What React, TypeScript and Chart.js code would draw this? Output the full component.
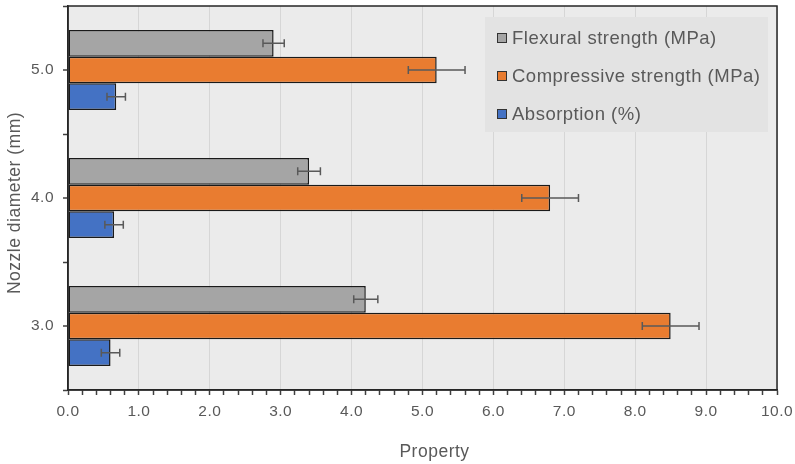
import React, { useEffect, useRef } from "react";
import { Chart, registerables } from "chart.js";

Chart.register(...registerables);

const categories = ["5.0", "4.0", "3.0"];
const seriesNames = ["Flexural strength (MPa)", "Compressive strength (MPa)", "Absorption (%)"];
const flexural = [2.9, 3.4, 4.2];
const flexuralErr = [0.15, 0.16, 0.17];
const compressive = [5.2, 6.8, 8.5];
const compressiveErr = [0.4, 0.4, 0.4];
const absorption = [0.68, 0.65, 0.6];
const absorptionErr = [0.13, 0.13, 0.13];
const xTitle = "Property";
const yTitle = "Nozzle diameter (mm)";

const FONT = "'Liberation Sans', Arial, sans-serif";
const TEXT = "#595959";

const errors = [flexuralErr, compressiveErr, absorptionErr];

const decorPlugin = {
  id: "decor",
  beforeDraw(chart: any) {
    const { ctx, chartArea: a } = chart;
    (ctx as any).letterSpacing = "0.5px";
    ctx.save();
    ctx.fillStyle = "#ebebeb";
    ctx.fillRect(a.left, a.top, a.right - a.left, a.bottom - a.top);
    ctx.restore();
  },
  afterDatasetsDraw(chart: any) {
    const { ctx, chartArea: a } = chart;
    const xs = chart.scales.x;
    const ys = chart.scales.y;
    // error bars
    ctx.save();
    ctx.strokeStyle = "#595959";
    ctx.lineWidth = 1.5;
    chart.data.datasets.forEach((ds: any, i: number) => {
      const meta = chart.getDatasetMeta(i);
      meta.data.forEach((el: any, j: number) => {
        const v = ds.data[j];
        const e = errors[i][j];
        const x1 = xs.getPixelForValue(v - e);
        const x2 = xs.getPixelForValue(v + e);
        const y = el.y;
        ctx.beginPath();
        ctx.moveTo(x1, y);
        ctx.lineTo(x2, y);
        ctx.moveTo(x1, y - 4);
        ctx.lineTo(x1, y + 4);
        ctx.moveTo(x2, y - 4);
        ctx.lineTo(x2, y + 4);
        ctx.stroke();
      });
    });
    ctx.restore();

    // y tick marks at labels
    ctx.save();
    ctx.strokeStyle = "#404040";
    ctx.lineWidth = 1.5;
    categories.forEach((_, j) => {
      const y = ys.getPixelForValue(j);
      ctx.beginPath();
      ctx.moveTo(a.left - 5, y);
      ctx.lineTo(a.left, y);
      ctx.stroke();
    });
    ctx.restore();

    // legend
    const lw = 283;
    const lh = 115;
    const lx = a.right - 9 - lw;
    const ly = a.top + 11;
    ctx.save();
    ctx.fillStyle = "#e3e3e3";
    ctx.fillRect(lx, ly, lw, lh);
    ctx.font = `18.5px ${FONT}`;
    ctx.textBaseline = "middle";
    ctx.textAlign = "left";
    chart.data.datasets.forEach((ds: any, i: number) => {
      const cy = ly + 21 + i * 38;
      ctx.fillStyle = ds.backgroundColor;
      ctx.fillRect(lx + 12, cy - 5, 10, 10);
      ctx.strokeStyle = "#333333";
      ctx.lineWidth = 1;
      ctx.strokeRect(lx + 12.5, cy - 4.5, 9, 9);
      ctx.fillStyle = TEXT;
      ctx.fillText(ds.label, lx + 27, cy + 1);
    });
    ctx.restore();

    // plot border
    ctx.save();
    ctx.strokeStyle = "#262626";
    ctx.lineWidth = 1.5;
    ctx.strokeRect(a.left, a.top, a.right - a.left, a.bottom - a.top);
    ctx.restore();

    // axis titles
    ctx.save();
    ctx.fillStyle = TEXT;
    ctx.font = `17.5px ${FONT}`;
    ctx.textAlign = "center";
    ctx.textBaseline = "middle";
    ctx.fillText(xTitle, (a.left + a.right) / 2 + 12, 452);
    ctx.translate(15, (a.top + a.bottom) / 2 + 5);
    ctx.rotate(-Math.PI / 2);
    ctx.fillText(yTitle, 0, 0);
    ctx.restore();
  },
};

export default function App() {
  const ref = useRef<HTMLCanvasElement | null>(null);
  useEffect(() => {
    document.body.style.margin = "0";
    if (!ref.current) return;
    const isInt = (v: number) => Math.abs(v - Math.round(v)) < 1e-6;
    const chart = new Chart(ref.current, {
      type: "bar",
      data: {
        labels: categories,
        datasets: [
          { label: seriesNames[0], data: flexural, backgroundColor: "#a5a5a5" },
          { label: seriesNames[1], data: compressive, backgroundColor: "#e97c30" },
          { label: seriesNames[2], data: absorption, backgroundColor: "#4472c4" },
        ].map((d) => ({
          ...d,
          borderColor: "#1a1a1a",
          borderWidth: 1.5,
          borderSkipped: false,
          categoryPercentage: 0.625,
          barPercentage: 1,
        })),
      },
      options: {
        indexAxis: "y",
        responsive: false,
        animation: false,
        layout: { padding: { top: 6, right: 18, left: 0, bottom: 0 } },
        plugins: { legend: { display: false }, tooltip: { enabled: false } },
        scales: {
          x: {
            min: 0,
            max: 10,
            afterFit: (s: any) => {
              s.height = 74;
              s.paddingLeft = 0;
              s.paddingRight = 0;
            },
            ticks: {
              stepSize: 0.2,
              autoSkip: false,
              maxRotation: 0,
              padding: 7,
              color: TEXT,
              font: { family: FONT, size: 15.5 },
              callback: (v: any) => (isInt(Number(v)) ? Number(v).toFixed(1) : ""),
            },
            grid: {
              color: (c: any) => (isInt(c.tick?.value ?? 0) ? "#d6d6d6" : "rgba(0,0,0,0)"),
              lineWidth: 1,
              tickColor: "#404040",
              tickLength: 5,
              tickWidth: 1.5,
            },
            border: { display: true, color: "#262626", width: 1.5 },
          },
          y: {
            type: "category",
            offset: true,
            afterFit: (s: any) => {
              s.width = 68;
              s.paddingTop = 0;
              s.paddingBottom = 0;
            },
            ticks: {
              padding: 9,
              color: TEXT,
              font: { family: FONT, size: 15.5 },
            },
            grid: {
              offset: true,
              drawOnChartArea: false,
              tickColor: "#404040",
              tickLength: 5,
              tickWidth: 1.5,
            },
            border: { display: true, color: "#262626", width: 1.5 },
          },
        },
      },
      plugins: [decorPlugin],
    } as any);
    return () => chart.destroy();
  }, []);
  return (
    <div style={{ width: 795, height: 464, background: "#ffffff" }}>
      <canvas ref={ref} width={795} height={464} style={{ display: "block" }} />
    </div>
  );
}
